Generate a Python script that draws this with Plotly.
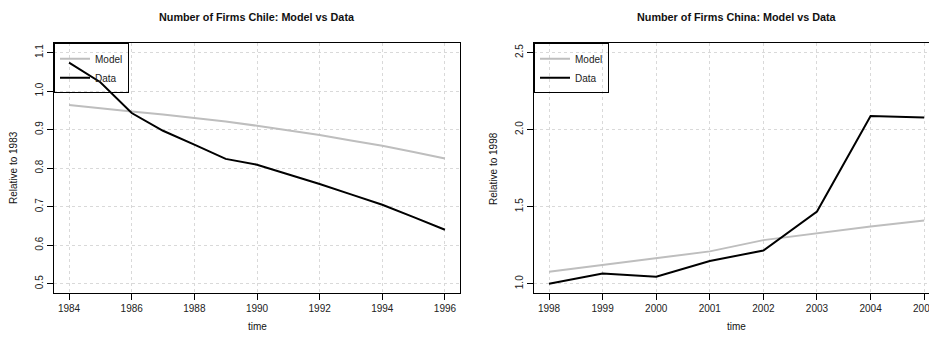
import plotly.graph_objects as go

# ---- data ----
chile_years = [1984, 1985, 1986, 1987, 1988, 1989, 1990, 1991, 1992, 1993, 1994, 1995, 1996]
chile_model = [0.964, 0.955, 0.947, 0.939, 0.930, 0.921, 0.910, 0.898, 0.886, 0.872, 0.858, 0.842, 0.825]
chile_data = [1.074, 1.023, 0.943, 0.897, 0.861, 0.824, 0.809, 0.785, 0.759, 0.732, 0.705, 0.673, 0.640]

china_years = [1998, 1999, 2000, 2001, 2002, 2003, 2004, 2005]
china_model = [1.078, 1.121, 1.164, 1.210, 1.283, 1.329, 1.372, 1.411]
china_data = [1.000, 1.067, 1.045, 1.147, 1.216, 1.469, 2.088, 2.079]

chile_xticks = [1984, 1986, 1988, 1990, 1992, 1994, 1996]
chile_yticks = [0.5, 0.6, 0.7, 0.8, 0.9, 1.0, 1.1]
chile_yticklabels = ["0.5", "0.6", "0.7", "0.8", "0.9", "1.0", "1.1"]
china_xticks = china_years
china_yticks = [1.0, 1.5, 2.0, 2.5]
china_yticklabels = ["1.0", "1.5", "2.0", "2.5"]

W, H = 929, 339
FONT = "Liberation Sans, Arial, sans-serif"
MODEL_C = "#BEBEBE"
DATA_C = "#000000"

fig = go.Figure()
fig.add_trace(go.Scatter(x=chile_years, y=chile_model, mode="lines", name="Model",
                         line=dict(color=MODEL_C, width=2), xaxis="x", yaxis="y", legend="legend"))
fig.add_trace(go.Scatter(x=chile_years, y=chile_data, mode="lines", name="Data",
                         line=dict(color=DATA_C, width=2), xaxis="x", yaxis="y", legend="legend"))
fig.add_trace(go.Scatter(x=china_years, y=china_model, mode="lines", name="Model",
                         line=dict(color=MODEL_C, width=2), xaxis="x2", yaxis="y2", legend="legend2"))
fig.add_trace(go.Scatter(x=china_years, y=china_data, mode="lines", name="Data",
                         line=dict(color=DATA_C, width=2), xaxis="x2", yaxis="y2", legend="legend2"))

def px_x(p):
    return p / W

def px_y(p):
    return 1 - p / H

ydom = [px_y(293), px_y(43.3)]

common_axis = dict(
    showline=True, linecolor="black", linewidth=1,
    ticks="outside", ticklen=6, tickcolor="black", tickwidth=1,
    showgrid=True, gridcolor="#D9D9D9", griddash="dot", gridwidth=1,
    zeroline=False, automargin=False,
    tickfont=dict(family=FONT, size=10, color="#222222"),
)

leg_common = dict(xanchor="left", yanchor="top",
                  bordercolor="black", borderwidth=1, bgcolor="rgba(0,0,0,0)",
                  font=dict(family=FONT, size=10, color="#222222"),
                  itemwidth=30, tracegroupgap=0)

fig.update_layout(
    width=W, height=H,
    margin=dict(l=0, r=0, t=0, b=0, autoexpand=False),
    plot_bgcolor="white", paper_bgcolor="white",
    font=dict(family=FONT, size=10, color="black"),
    xaxis=dict(domain=[px_x(54), px_x(460)], range=[1983.52, 1996.48],
               tickvals=chile_xticks, mirror=True, anchor="y", **common_axis),
    yaxis=dict(domain=ydom, range=[0.476, 1.124], tickvals=chile_yticks,
               ticktext=chile_yticklabels, tickangle=-90, mirror=True, anchor="x", **common_axis),
    xaxis2=dict(domain=[px_x(534), 1.0], range=[1997.72, 2005.09],
                tickvals=china_xticks, mirror=True, anchor="y2", ticklabeloverflow="allow",
                **common_axis),
    yaxis2=dict(domain=ydom, range=[0.94, 2.56], tickvals=china_yticks,
                ticktext=china_yticklabels, tickangle=-90, mirror=False, anchor="x2", **common_axis),
    legend=dict(x=px_x(54), y=px_y(43.3), **leg_common),
    legend2=dict(x=px_x(534), y=px_y(43.3), **leg_common),
    showlegend=True,
)

ann = [
    dict(text="<b>Number of Firms Chile: Model vs Data</b>", x=px_x(257), y=px_y(17), size=10.8),
    dict(text="<b>Number of Firms China: Model vs Data</b>", x=px_x(736.5), y=px_y(17), size=10.8),
    dict(text="time", x=px_x(257), y=px_y(326), size=10),
    dict(text="time", x=px_x(736.5), y=px_y(326), size=10),
    dict(text="Relative to 1983", x=px_x(13), y=px_y(168), textangle=-90, size=10),
    dict(text="Relative to 1998", x=px_x(493), y=px_y(168), textangle=-90, size=10),
]
for a in ann:
    size = a.pop("size")
    fig.add_annotation(xref="paper", yref="paper", showarrow=False,
                       xanchor="center", yanchor="middle",
                       font=dict(family=FONT, size=size, color="#111111"), **a)

fig.write_html("out.html")
